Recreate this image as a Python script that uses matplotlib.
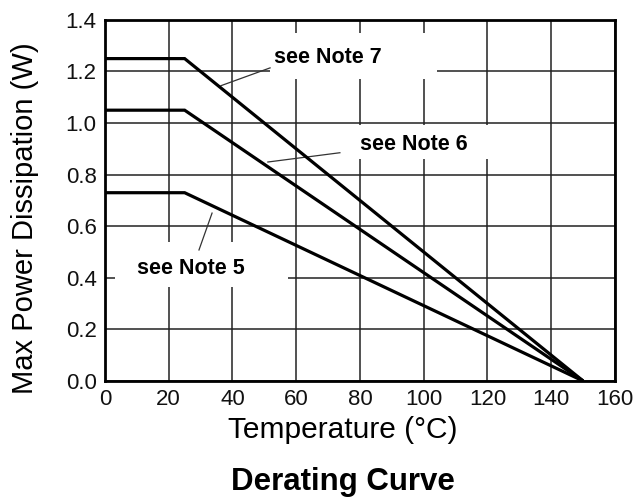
import matplotlib
matplotlib.use("Agg")
import matplotlib.pyplot as plt
from matplotlib.patches import Rectangle

plt.rcParams['font.family'] = ['Liberation Sans', 'DejaVu Sans']

# ---- data ----
temps = [0, 25, 150]                      # deg C: flat to 25, linear to 0 W at 150
note7_power = [1.25, 1.25, 0.0]
note6_power = [1.05, 1.05, 0.0]
note5_power = [0.73, 0.73, 0.0]

x_ticks = [0, 20, 40, 60, 80, 100, 120, 140, 160]
y_ticks = [0.0, 0.2, 0.4, 0.6, 0.8, 1.0, 1.2, 1.4]

# annotation: label, text pos, white box (x0, y0, x1, y1), leader line (x0, y0, x1, y1)
notes = [
    ("see Note 7", (53.0, 1.253), (51.8, 1.171, 104.2, 1.350), (51.8, 1.214, 36.4, 1.145)),
    ("see Note 6", (80.0, 0.915), (74.4, 0.861, 120.8, 0.993), (73.7, 0.885, 51.1, 0.849)),
    ("see Note 5", (10.2, 0.438), (3.1, 0.365, 57.4, 0.539), (29.5, 0.508, 33.6, 0.651)),
]

fig = plt.figure(figsize=(6.36, 4.98), dpi=100)
ax = fig.add_axes([0.165, 0.235, 0.802, 0.725])

# grid first, under everything
ax.set_axisbelow(True)
ax.grid(True, color='#222222', linewidth=1.1)

# white boxes that knock out the grid behind the labels
for label, (tx, ty), (bx0, by0, bx1, by1), (lx0, ly0, lx1, ly1) in notes:
    ax.add_patch(Rectangle((bx0, by0), bx1 - bx0, by1 - by0,
                           facecolor='white', edgecolor='none', zorder=1))
    ax.plot([lx0, lx1], [ly0, ly1], color='#333333', linewidth=0.9, zorder=2)
    ax.text(tx, ty, label, ha='left', va='center', fontsize=15.5,
            fontweight='bold', color='black', zorder=3)

for p in (note7_power, note6_power, note5_power):
    ax.plot(temps, p, color='black', linewidth=2.3, zorder=2,
            solid_capstyle='butt', solid_joinstyle='miter')

ax.set_xlim(0, 160)
ax.set_ylim(0, 1.4)
ax.set_xticks(x_ticks)
ax.set_yticks(y_ticks)
ax.set_yticklabels([f"{v:.1f}" for v in y_ticks])
ax.tick_params(length=0, labelsize=16, pad=6, colors='#111111')
for s in ax.spines.values():
    s.set_linewidth(2.0)
    s.set_color('black')

fig.text(25 / 636, 1 - 218 / 498, "Max Power Dissipation (W)", rotation=90,
         ha='center', va='center', fontsize=21)
fig.text(343 / 636, 1 - 438 / 498, "Temperature (°C)", ha='center', va='baseline', fontsize=21.5)
fig.text(343 / 636, 1 - 490 / 498, "Derating Curve", ha='center', va='baseline',
         fontsize=22.5, fontweight='bold')

fig.savefig("out.png", dpi=100)
